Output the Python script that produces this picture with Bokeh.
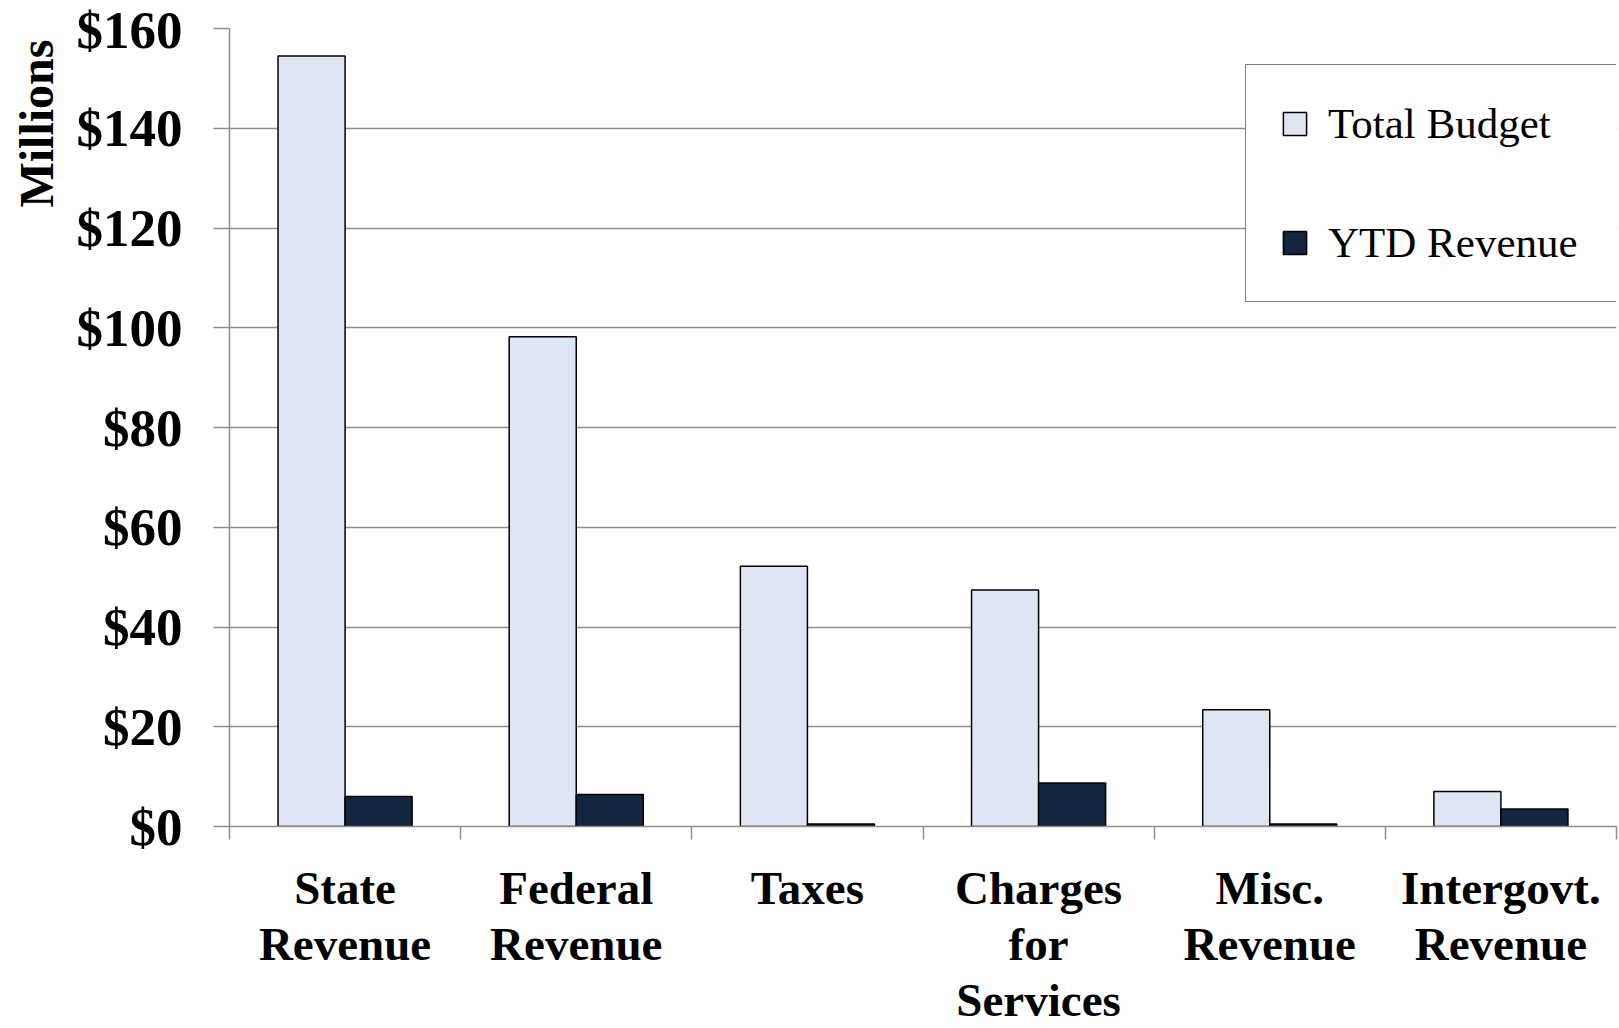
import numpy as np
from bokeh.plotting import figure
from bokeh.models import (Range1d, LinearAxis, FixedTicker, Grid, Legend, LegendItem, Title,
                          ColumnDataSource)
from bokeh.embed import file_html
from bokeh.resources import INLINE

categories = ["State\nRevenue", "Federal\nRevenue", "Taxes", "Charges\nfor\nServices",
              "Misc.\nRevenue", "Intergovt.\nRevenue"]
total_budget = [154.5, 98.2, 52.2, 47.4, 23.4, 7.0]
ytd_revenue = [6.0, 6.4, 0.5, 8.7, 0.5, 3.5]
y_ticks = [0, 20, 40, 60, 80, 100, 120, 140, 160]
y_tick_labels = ["$0", "$20", "$40", "$60", "$80", "$100", "$120", "$140", "$160"]
series_names = ["Total Budget", "YTD Revenue"]

GRAY = "#8e8e8e"
SERIF = "Liberation Serif"
n = len(categories)
idx = np.arange(n)
bar_w = 0.29
centers = [float(c) for c in idx + 0.5]

src = ColumnDataSource(dict(
    x1=idx + 0.5 - bar_w / 2, x2=idx + 0.5 + bar_w / 2,
    tb=total_budget, ytd=ytd_revenue))

p = figure(width=1619, height=1028, x_range=Range1d(0, n), y_range=Range1d(0, 160),
           output_backend="svg", toolbar_location=None,
           x_axis_type=None, y_axis_type=None,
           min_border_left=229, min_border_right=3, min_border_top=28, min_border_bottom=202)
p.outline_line_color = None
p.background_fill_color = "white"
p.border_fill_color = "white"

# y axis
yaxis = LinearAxis(ticker=FixedTicker(ticks=y_ticks),
                   major_label_overrides={t: l for t, l in zip(y_ticks, y_tick_labels)})
yaxis.axis_line_color = GRAY
yaxis.axis_line_width = 1.5
yaxis.major_tick_line_color = GRAY
yaxis.major_tick_line_width = 1.5
yaxis.major_tick_out = 16
yaxis.major_tick_in = 0
yaxis.minor_tick_line_color = None
yaxis.major_label_text_font = SERIF
yaxis.major_label_text_font_style = "bold"
yaxis.major_label_text_font_size = "53px"
yaxis.major_label_text_color = "black"
yaxis.major_label_standoff = 31
p.add_layout(yaxis, "left")

p.add_layout(Title(text="Millions", align="right", vertical_align="top", text_font=SERIF,
                   text_font_style="bold", text_font_size="48px", text_color="black",
                   standoff=17, offset=11), "left")

p.add_layout(Grid(dimension=1, ticker=FixedTicker(ticks=y_ticks), grid_line_color=GRAY,
                  grid_line_width=1.5))

# bottom axis: category labels at centres, boundary tick marks as minor ticks
xaxis = LinearAxis(ticker=FixedTicker(ticks=centers, minor_ticks=list(range(n + 1))),
                   major_label_overrides={c: lab for c, lab in zip(centers, categories)})
xaxis.axis_line_color = GRAY
xaxis.axis_line_width = 1.5
xaxis.major_tick_line_color = None
xaxis.major_tick_out = 0
xaxis.major_tick_in = 0
xaxis.minor_tick_line_color = GRAY
xaxis.minor_tick_line_width = 1.5
xaxis.minor_tick_out = 13
xaxis.minor_tick_in = 0
xaxis.major_label_text_font = SERIF
xaxis.major_label_text_font_style = "bold"
xaxis.major_label_text_font_size = "47px"
xaxis.major_label_text_color = "black"
xaxis.major_label_text_line_height = 1.08
xaxis.major_label_standoff = 22
p.add_layout(xaxis, "below")

r1 = p.vbar(x="x1", top="tb", width=bar_w, source=src, fill_color="#DFE6F3",
            line_color="black", line_width=1.5)
r2 = p.vbar(x="x2", top="ytd", width=bar_w, source=src, fill_color="#13253F",
            line_color="black", line_width=1.5)

legend = Legend(items=[LegendItem(label=series_names[0], renderers=[r1]),
                       LegendItem(label=series_names[1], renderers=[r2])],
                location=(1016, 524))
legend.label_text_font = SERIF
legend.label_text_font_size = "43px"
legend.label_text_color = "black"
legend.glyph_width = 29
legend.glyph_height = 29
legend.label_standoff = 19
legend.label_width = 264
legend.spacing = 70
legend.padding = 34
legend.margin = 0
legend.border_line_color = "black"
legend.border_line_width = 1.5
legend.background_fill_color = "white"
legend.background_fill_alpha = 1.0
p.add_layout(legend)

open("out.html", "w").write(file_html(p, INLINE))
